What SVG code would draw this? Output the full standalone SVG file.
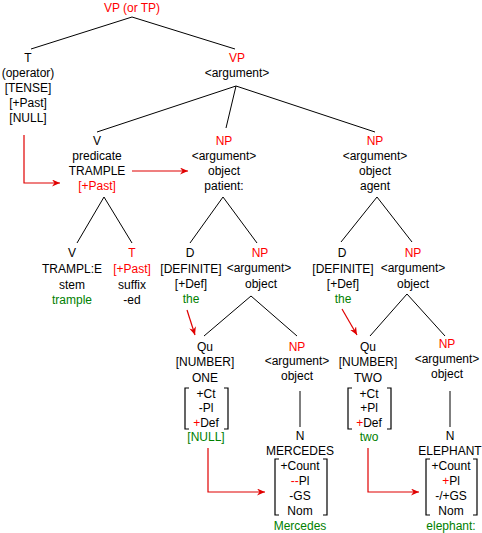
<svg xmlns="http://www.w3.org/2000/svg" width="482" height="533" viewBox="0 0 482 533">
<style>
text{font-family:"Liberation Sans",Arial,sans-serif;font-size:12px;text-anchor:middle;fill:#000}
.r{fill:#ff0000}
.g{fill:#008000}
.ln{stroke:#000;stroke-width:1;fill:none}
.ra{stroke:#e00000;stroke-width:1.2;fill:none;marker-end:url(#ah)}
.br{stroke:#000;stroke-width:1.2;fill:none}
</style>
<defs>
<marker id="ah" markerWidth="9" markerHeight="7" refX="8" refY="3.5" orient="auto" markerUnits="userSpaceOnUse">
<path d="M0,0 L8,3.5 L0,7 L2.5,3.5 z" fill="#e00000"/>
</marker>
</defs>
<rect width="482" height="533" fill="#fff"/>
<g id="connectors">
<path class="ln" d="M132,17 L31,49 M132,17 L235,49"/>
<path class="ln" d="M236,86 L97,132 M236,86 L226,128 M236,86 L375,132"/>
<path class="ln" d="M104,197 L77,243 M104,197 L132,243"/>
<path class="ln" d="M223,197 L190,243 M223,197 L257,243"/>
<path class="ln" d="M377,197 L341,242 M377,197 L412,242"/>
<path class="ln" d="M251,296 L204,336 M251,296 L297,336"/>
<path class="ln" d="M407,294 L370,336 M407,294 L445,336"/>
<path class="ln" d="M300,391 L300,427 M450,391 L450,427"/>
<path class="ra" d="M24,135 L24,183 L60,183"/>
<path class="ra" d="M132,171 L188,171"/>
<path class="ra" d="M187,310 L195,335"/>
<path class="ra" d="M342,309 L357,335"/>
<path class="ra" d="M208,448 L208,492 L265,492"/>
<path class="ra" d="M368,448 L368,492 L419,492"/>
</g>
<g id="root"><text class="r" x="132" y="12">VP (or TP)</text></g>
<g id="T-operator">
<text x="28" y="62">T</text>
<text x="28" y="77">(operator)</text>
<text x="28" y="92">[TENSE]</text>
<text x="28" y="107">[+Past]</text>
<text x="28" y="122">[NULL]</text>
</g>
<g id="VP-argument">
<text class="r" x="237" y="62">VP</text>
<text x="237" y="77">&lt;argument&gt;</text>
</g>
<g id="V-predicate">
<text x="97" y="145">V</text>
<text x="97" y="160">predicate</text>
<text x="97" y="175">TRAMPLE</text>
<text class="r" x="97" y="190">[+Past]</text>
</g>
<g id="NP-patient">
<text class="r" x="224" y="145">NP</text>
<text x="224" y="160">&lt;argument&gt;</text>
<text x="224" y="175">object</text>
<text x="224" y="190">patient:</text>
</g>
<g id="NP-agent">
<text class="r" x="375" y="145">NP</text>
<text x="375" y="160">&lt;argument&gt;</text>
<text x="375" y="175">object</text>
<text x="375" y="190">agent</text>
</g>
<g id="V-stem">
<text x="72" y="257">V</text>
<text x="72" y="273">TRAMPL:E</text>
<text x="72" y="289">stem</text>
<text class="g" x="72" y="304">trample</text>
</g>
<g id="T-suffix">
<text class="r" x="132" y="257">T</text>
<text class="r" x="132" y="273">[+Past]</text>
<text x="132" y="289">suffix</text>
<text x="132" y="304">-ed</text>
</g>
<g id="D-left">
<text x="190" y="257">D</text>
<text x="191" y="273">[DEFINITE]</text>
<text x="191" y="288">[+Def]</text>
<text class="g" x="191" y="303">the</text>
</g>
<g id="NP-object-left">
<text class="r" x="260" y="257">NP</text>
<text x="259" y="272">&lt;argument&gt;</text>
<text x="261" y="288">object</text>
</g>
<g id="D-right">
<text x="342" y="257">D</text>
<text x="343" y="273">[DEFINITE]</text>
<text x="343" y="288">[+Def]</text>
<text class="g" x="343" y="303">the</text>
</g>
<g id="NP-object-right">
<text class="r" x="413" y="257">NP</text>
<text x="413" y="272">&lt;argument&gt;</text>
<text x="413" y="288">object</text>
</g>
<g id="Qu-one">
<text x="205" y="351">Qu</text>
<text x="205" y="366">[NUMBER]</text>
<text x="205" y="382">ONE</text>
<path class="br" d="M189,388 L185,388 L185,429 L189,429 M224,388 L228,388 L228,429 L224,429"/>
<text x="206" y="398">+Ct</text>
<text x="206" y="412">-Pl</text>
<text x="206" y="427"><tspan class="r">+</tspan>Def</text>
<text class="g" x="206" y="441">[NULL]</text>
</g>
<g id="NP-mercedes">
<text class="r" x="297" y="351">NP</text>
<text x="297" y="365">&lt;argument&gt;</text>
<text x="297" y="380">object</text>
</g>
<g id="N-mercedes">
<text x="300" y="440">N</text>
<text x="300" y="455">MERCEDES</text>
<path class="br" d="M279,459 L275,459 L275,515 L279,515 M323,459 L327,459 L327,515 L323,515"/>
<text x="300" y="470">+Count</text>
<text x="300" y="485"><tspan class="r">--</tspan>Pl</text>
<text x="300" y="500">-GS</text>
<text x="300" y="515">Nom</text>
<text class="g" x="300" y="530">Mercedes</text>
</g>
<g id="Qu-two">
<text x="368" y="351">Qu</text>
<text x="368" y="366">[NUMBER]</text>
<text x="368" y="382">TWO</text>
<path class="br" d="M352,388 L348,388 L348,429 L352,429 M387,388 L391,388 L391,429 L387,429"/>
<text x="369" y="398">+Ct</text>
<text x="369" y="412">+Pl</text>
<text x="369" y="427"><tspan class="r">+</tspan>Def</text>
<text class="g" x="369" y="441">two</text>
</g>
<g id="NP-elephant">
<text class="r" x="447" y="348">NP</text>
<text x="447" y="363">&lt;argument&gt;</text>
<text x="447" y="378">object</text>
</g>
<g id="N-elephant">
<text x="450" y="440">N</text>
<text x="450" y="455">ELEPHANT</text>
<path class="br" d="M430,459 L426,459 L426,515 L430,515 M473,459 L477,459 L477,515 L473,515"/>
<text x="451" y="470">+Count</text>
<text x="451" y="485"><tspan class="r">+</tspan>Pl</text>
<text x="451" y="500">-/+GS</text>
<text x="451" y="515">Nom</text>
<text class="g" x="451" y="530">elephant:</text>
</g>
</svg>
